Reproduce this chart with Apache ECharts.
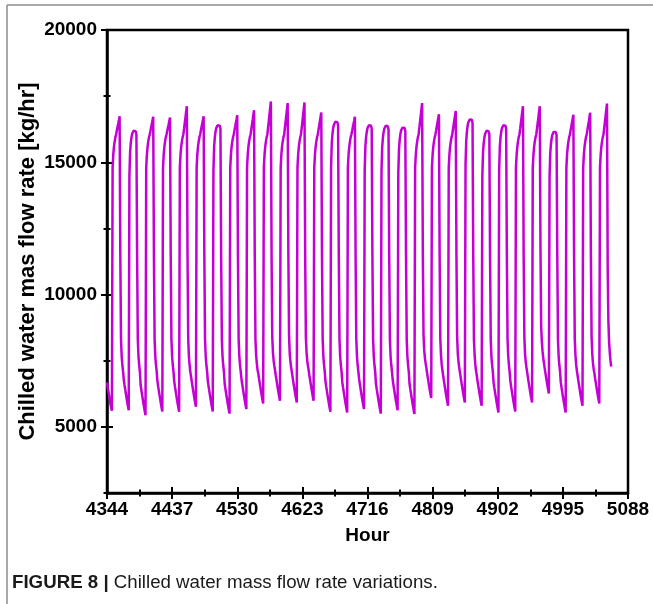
<!DOCTYPE html>
<html>
<head>
<meta charset="utf-8">
<script src="https://cdn.jsdelivr.net/npm/echarts@6/dist/echarts.min.js"></script>
<style>html,body{margin:0;padding:0;background:#fff}#c{width:653px;height:604px}</style>
</head>
<body>
<div id="c"></div>
<script>
// hourly chilled water mass flow rate [kg/hr], starting at hour 4344
const hourStart = 4344;
const flowRate = [
/* d0  */ 6680,6500,6340,6180,6020,5860,5720,5606, 14800,15300,15600,15800,15950,16050,16190,16330,16460,16600,16742, 11500,8300,7650,7320,7080,
/* d1  */ 6780,6590,6420,6250,6080,5920,5770,5630, 14490,15390,15740,15950,16080,16150,16190,16190,16185,16175,16060, 11500,8300,7650,7320,7080,
/* d2  */ 6590,6400,6230,6060,5890,5730,5580,5440, 14800,15300,15600,15800,15950,16050,16180,16320,16450,16580,16720, 11500,8300,7650,7320,7080,
/* d3  */ 6730,6540,6370,6200,6030,5870,5720,5580, 14800,15300,15600,15800,15950,16050,16180,16310,16430,16560,16690, 11500,8300,7650,7320,7080,
/* d4  */ 6720,6530,6360,6190,6020,5860,5710,5570, 14800,15300,15600,15800,15950,16050,16260,16480,16690,16910,17120, 11500,8300,7650,7320,7080,
/* d5  */ 6910,6720,6550,6380,6210,6050,5900,5760, 14800,15300,15600,15800,15950,16050,16190,16330,16460,16600,16740, 11500,8300,7650,7320,7080,
/* d6  */ 6730,6540,6370,6200,6030,5870,5720,5580, 14700,15600,15950,16160,16290,16360,16400,16400,16395,16385,16270, 11500,8300,7650,7320,7080,
/* d7  */ 6650,6460,6290,6120,5950,5790,5640,5500, 14800,15300,15600,15800,15950,16050,16200,16340,16490,16630,16780, 11500,8300,7650,7320,7080,
/* d8  */ 6820,6630,6460,6290,6120,5960,5810,5670, 14800,15300,15600,15800,15950,16050,16230,16420,16600,16790,16970, 11500,8300,7700,7380,7150,
/* d9  */ 7030,6840,6670,6500,6330,6170,6020,5880, 14800,15300,15600,15800,15950,16050,16300,16550,16800,17050,17300, 11500,8400,7800,7500,7300,
/* d10 */ 7140,6950,6780,6610,6440,6280,6130,5990, 14800,15300,15600,15800,15950,16050,16290,16530,16760,17000,17240, 11500,8400,7750,7450,7240,
/* d11 */ 7070,6880,6710,6540,6370,6210,6060,5920, 14800,15300,15600,15800,15950,16050,16290,16530,16780,17020,17260, 11500,8400,7800,7500,7300,
/* d12 */ 7140,6950,6780,6610,6440,6280,6130,5990, 14800,15300,15600,15800,15950,16050,16220,16380,16550,16720,16880, 11500,8300,7650,7320,7080,
/* d13 */ 6720,6530,6360,6190,6020,5860,5710,5570, 14830,15730,16080,16290,16420,16490,16530,16530,16525,16515,16400, 11500,8300,7650,7320,7080,
/* d14 */ 6690,6500,6330,6160,5990,5830,5680,5540, 14800,15300,15600,15800,15950,16050,16180,16320,16450,16580,16720, 11500,8300,7650,7320,7080,
/* d15 */ 6820,6630,6460,6290,6120,5960,5810,5670, 14700,15600,15950,16160,16290,16360,16400,16400,16395,16385,16270, 11500,8300,7650,7320,7080,
/* d16 */ 6650,6460,6290,6120,5950,5790,5640,5500, 14680,15580,15930,16140,16270,16340,16380,16380,16375,16365,16250, 11500,8300,7650,7320,7080,
/* d17 */ 6780,6590,6420,6250,6080,5920,5770,5630, 14610,15510,15860,16070,16200,16270,16310,16310,16305,16295,16180, 11500,8300,7650,7320,7080,
/* d18 */ 6640,6450,6280,6110,5940,5780,5630,5490, 14800,15300,15600,15800,15950,16050,16290,16530,16760,17000,17240, 11600,8500,7900,7600,7400,
/* d19 */ 7240,7050,6880,6710,6540,6380,6230,6090, 14800,15300,15600,15800,15950,16050,16200,16360,16510,16670,16820, 11500,8300,7700,7350,7120,
/* d20 */ 6950,6760,6590,6420,6250,6090,5940,5800, 14800,15300,15600,15800,15950,16050,16230,16410,16590,16760,16940, 11500,8400,7750,7450,7240,
/* d21 */ 7070,6880,6710,6540,6370,6210,6060,5920, 14920,15820,16170,16380,16510,16580,16620,16620,16615,16605,16490, 11500,8300,7700,7350,7120,
/* d22 */ 6950,6760,6590,6420,6250,6090,5940,5800, 14490,15390,15740,15950,16080,16150,16190,16190,16185,16175,16060, 11500,8300,7650,7320,7080,
/* d23 */ 6690,6500,6330,6160,5990,5830,5680,5540, 14700,15600,15950,16160,16290,16360,16400,16400,16395,16385,16270, 11500,8300,7650,7320,7080,
/* d24 */ 6730,6540,6370,6200,6030,5870,5720,5580, 14800,15300,15600,15800,15950,16050,16260,16480,16690,16910,17120, 11500,8400,7750,7450,7240,
/* d25 */ 7070,6880,6710,6540,6370,6210,6060,5920, 14800,15300,15600,15800,15950,16050,16260,16480,16690,16910,17120, 11800,8800,8200,7850,7600,
/* d26 */ 7410,7220,7050,6880,6710,6550,6400,6260, 14450,15350,15700,15910,16040,16110,16150,16150,16145,16135,16020, 11500,8300,7650,7320,7080,
/* d27 */ 6690,6500,6330,6160,5990,5830,5680,5540, 14800,15300,15600,15800,15950,16050,16200,16350,16500,16650,16800, 11500,8300,7700,7350,7120,
/* d28 */ 6950,6760,6590,6420,6250,6090,5940,5800, 14800,15300,15600,15800,15950,16050,16210,16380,16540,16710,16870, 11500,8400,7750,7400,7180,
/* d29 */ 7030,6840,6670,6500,6330,6170,6020,5880, 14800,15300,15600,15800,15950,16050,16280,16520,16750,16990,17220, 11000,9000,8200,7800,7500,
/* end */ 7280
];
const xTickValues = [4344, 4437, 4530, 4623, 4716, 4809, 4902, 4995, 5088];
const xMinorTickValues = [4390.5, 4483.5, 4576.5, 4669.5, 4762.5, 4855.5, 4948.5, 5041.5];
const yTickValues = [5000, 10000, 15000, 20000];
const yMinorTickValues = [2500, 7500, 12500, 17500];
const xLabel = 'Hour';
const yLabel = 'Chilled water mas flow rate [kg/hr]';
const captionBold = 'FIGURE 8 |';
const captionText = ' Chilled water mass flow rate variations.';

const seriesData = flowRate.map((v, i) => [hourStart + i, v]);
const FONT = 'Liberation Sans, Arial, sans-serif';
const lineColor = '#C400D4';

const chart = echarts.init(document.getElementById('c'), null, {renderer: 'canvas'});

function tickAxis(values, len, inside, extra) {
  return Object.assign({
    type: 'value',
    gridIndex: 0,
    axisLine: {show: false},
    axisLabel: {show: false},
    splitLine: {show: false},
    axisTick: {show: true, inside: inside, customValues: values, length: len, lineStyle: {color: '#000', width: 2}}
  }, extra);
}
const plain = v => String(v);
const xr = {min: 4344, max: 5088, position: 'bottom'};
const yr = {min: 2500, max: 20000, position: 'left'};

const option = {
  animation: false,
  backgroundColor: '#fff',
  grid: {left: 107, top: 30, width: 521, height: 463, show: true, borderColor: '#000', borderWidth: 2.5, backgroundColor: 'transparent', containLabel: false},
  xAxis: [
    {
      type: 'value', min: 4344, max: 5088, position: 'bottom',
      axisLine: {show: true, lineStyle: {color: '#000', width: 2.5}},
      axisTick: {show: false},
      splitLine: {show: false},
      axisLabel: {customValues: xTickValues, formatter: plain, color: '#000', fontSize: 19, fontWeight: 'bold', fontFamily: FONT, margin: 7},
      name: xLabel, nameLocation: 'middle', nameGap: 33, nameMoveOverlap: false,
      nameTextStyle: {color: '#000', fontSize: 19, fontWeight: 'bold', fontFamily: FONT}
    },
    tickAxis(xTickValues, 6, false, xr),
    tickAxis(xTickValues, 6, true, xr),
    tickAxis(xMinorTickValues, 3.5, false, xr),
    tickAxis(xMinorTickValues, 3.5, true, xr)
  ],
  yAxis: [
    {
      type: 'value', min: 2500, max: 20000, position: 'left',
      axisLine: {show: true, lineStyle: {color: '#000', width: 2.5}},
      axisTick: {show: false},
      splitLine: {show: false},
      axisLabel: {customValues: yTickValues, formatter: plain, color: '#000', fontSize: 19, fontWeight: 'bold', fontFamily: FONT, margin: 10},
      name: yLabel, nameLocation: 'middle', nameGap: 68, nameRotate: 90, nameMoveOverlap: false,
      nameTextStyle: {color: '#000', fontSize: 22, fontWeight: 'bold', fontFamily: FONT}
    },
    tickAxis(yTickValues, 6, false, yr),
    tickAxis(yTickValues, 6, true, yr),
    tickAxis(yMinorTickValues, 3.5, false, yr),
    tickAxis(yMinorTickValues, 3.5, true, yr)
  ],
  series: [{
    type: 'line',
    data: seriesData,
    xAxisIndex: 0, yAxisIndex: 0,
    showSymbol: false, symbol: 'none',
    lineStyle: {color: lineColor, width: 2.5},
    itemStyle: {color: lineColor},
    clip: true
  }],
  graphic: [
    {type: 'line', shape: {x1: 7, y1: 5, x2: 653, y2: 5}, style: {stroke: '#8c8c8c', lineWidth: 1.5}, silent: true},
    {type: 'line', shape: {x1: 7, y1: 5, x2: 7, y2: 604}, style: {stroke: '#8c8c8c', lineWidth: 1.5}, silent: true},
    {
      type: 'text', left: 12, top: 573, silent: true,
      style: {
        text: '{b|' + captionBold + '}' + captionText,
        fill: '#1a1a1a', fontSize: 18.7, fontFamily: FONT,
        rich: {b: {fontWeight: 'bold', fontSize: 18.7, fontFamily: FONT, fill: '#1a1a1a'}}
      }
    }
  ]
};
chart.setOption(option);
</script>
</body>
</html>
